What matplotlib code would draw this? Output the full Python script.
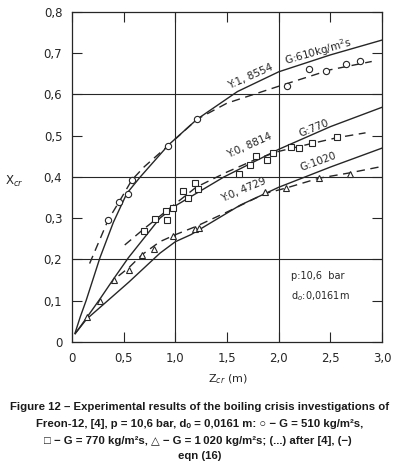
import numpy as np
import matplotlib
matplotlib.use('Agg')
import matplotlib.pyplot as plt

# eqn (16) curves
x_510 = [0.03, 0.08, 0.136, 0.27, 0.40, 0.53, 0.66, 0.935, 1.21, 1.6, 2.0, 2.5, 3.0]
y_510 = [0.022, 0.061, 0.10, 0.204, 0.29, 0.36, 0.40, 0.478, 0.54, 0.607, 0.655, 0.696, 0.732]
x_770 = [0.03, 0.08, 0.27, 0.40, 0.545, 0.85, 1.0, 1.47, 2.0, 2.5, 3.0]
y_770 = [0.02, 0.037, 0.104, 0.152, 0.204, 0.30, 0.33, 0.40, 0.467, 0.522, 0.569]
x_1020 = [0.03, 0.14, 0.30, 0.55, 0.85, 1.0, 1.15, 1.63, 2.0, 2.5, 3.0]
y_1020 = [0.02, 0.055, 0.09, 0.145, 0.215, 0.243, 0.26, 0.332, 0.375, 0.424, 0.47]

# correlation after [4] (dashed)
xd_510 = [0.17, 0.35, 0.456, 0.58, 0.70, 0.93, 1.21, 1.5, 2.0, 2.5, 2.9]
yd_510 = [0.19, 0.296, 0.34, 0.393, 0.425, 0.476, 0.54, 0.579, 0.62, 0.66, 0.68]
xd_770 = [0.51, 0.70, 0.90, 1.0, 1.2, 1.5, 1.8, 2.0, 2.3, 2.56, 2.84]
yd_770 = [0.235, 0.275, 0.315, 0.335, 0.375, 0.412, 0.445, 0.462, 0.48, 0.495, 0.507]
xd_1020 = [0.45, 0.55, 0.68, 0.85, 1.0, 1.2, 1.5, 1.87, 2.07, 2.39, 2.69, 2.99]
yd_1020 = [0.16, 0.18, 0.212, 0.243, 0.26, 0.28, 0.315, 0.36, 0.373, 0.397, 0.41, 0.425]

# experimental points
xo = [0.35, 0.456, 0.54, 0.58, 0.93, 1.21, 2.08, 2.29, 2.46, 2.65, 2.79]
yo = [0.296, 0.34, 0.358, 0.393, 0.476, 0.54, 0.62, 0.663, 0.657, 0.674, 0.681]
xs = [0.70, 0.80, 0.91, 0.92, 0.98, 1.07, 1.12, 1.19, 1.22, 1.62, 1.72, 1.78, 1.89, 1.94, 2.12, 2.2, 2.32, 2.56]
ys = [0.27, 0.297, 0.317, 0.296, 0.324, 0.367, 0.348, 0.385, 0.371, 0.408, 0.43, 0.451, 0.44, 0.459, 0.473, 0.47, 0.483, 0.496]
xt = [0.14, 0.27, 0.41, 0.55, 0.68, 0.79, 0.98, 1.19, 1.23, 1.87, 2.07, 2.39, 2.69]
yt = [0.06, 0.10, 0.15, 0.175, 0.21, 0.225, 0.257, 0.273, 0.275, 0.363, 0.373, 0.397, 0.407]

xticks = [0, 0.5, 1.0, 1.5, 2.0, 2.5, 3.0]
xtick_labels = ["0", "0,5", "1,0", "1,5", "2,0", "2,5", "3,0"]
yticks = [0, 0.1, 0.2, 0.3, 0.4, 0.5, 0.6, 0.7, 0.8]
ytick_labels = ["0", "0,1", "0,2", "0,3", "0,4", "0,5", "0,6", "0,7", "0,8"]

INK = "#262626"

fig = plt.figure(figsize=(3.98, 4.62), dpi=100)
fig.patch.set_facecolor("white")
ax = fig.add_axes([0.181, 0.26, 0.779, 0.714])

for xv in (1.0, 2.0):
    ax.axvline(xv, color=INK, lw=0.8, zorder=1)
for yv in (0.2, 0.4, 0.6):
    ax.axhline(yv, color=INK, lw=0.8, zorder=1)

lw = 1.0
ax.plot(x_510, y_510, color=INK, lw=lw)
ax.plot(x_770, y_770, color=INK, lw=lw)
ax.plot(x_1020, y_1020, color=INK, lw=lw)
dash = (0, (6, 4))
ax.plot(xd_510, yd_510, color=INK, lw=lw, ls=dash)
ax.plot(xd_770, yd_770, color=INK, lw=lw, ls=dash)
ax.plot(xd_1020, yd_1020, color=INK, lw=lw, ls=dash)

mk = dict(ls="none", mfc="white", mec=INK, mew=0.8, zorder=4)
ax.plot(xo, yo, marker="o", ms=4.5, **mk)
ax.plot(xs, ys, marker="s", ms=4.5, **mk)
ax.plot(xt, yt, marker="^", ms=4.5, **mk)

ax.set_xlim(0, 3.0)
ax.set_ylim(0, 0.8)
ax.set_xticks(xticks)
ax.set_xticklabels(xtick_labels)
ax.set_yticks(yticks)
ax.set_yticklabels(ytick_labels)
ax.tick_params(direction="in", length=7, width=0.8, top=True, right=True,
               colors=INK, labelsize=8.5, pad=7)
for spine in ax.spines.values():
    spine.set_edgecolor(INK)
    spine.set_linewidth(0.9)

tkw = dict(color=INK, fontsize=7.5, ha="center", va="center", rotation_mode="anchor")
ax.text(1.73, 0.643, "Y:1, 8554", rotation=24, **tkw)
ax.text(2.38, 0.703, "G:610kg/m$^2$s", rotation=16, **tkw)
ax.text(1.72, 0.476, "Y:0, 8814", rotation=24, **tkw)
ax.text(2.34, 0.518, "G:770", rotation=22, **tkw)
ax.text(2.38, 0.436, "G:1020", rotation=20, **tkw)
ax.text(1.66, 0.368, "Y:0, 4729", rotation=23, **tkw)
ax.text(2.12, 0.16, "p:10,6  bar", color=INK, fontsize=7, ha="left", va="center")
ax.text(2.12, 0.11, "d$_o$:0,0161m", color=INK, fontsize=7, ha="left", va="center")

fig.text(14 / 398, 1 - 181 / 462, "X$_{cr}$", color=INK, fontsize=8.5, ha="center", va="center")
fig.text(228 / 398, 1 - 379 / 462, "Z$_{cr}$ (m)", color=INK, fontsize=8, ha="center", va="center")

cap = dict(color="#1a1a1a", fontsize=8.2, fontweight="bold", ha="center", va="center",
           family=["Liberation Sans Narrow", "Liberation Sans", "DejaVu Sans"])
fig.text(200 / 398, 1 - 407 / 462,
         "Figure 12 \u2013 Experimental results of the boiling crisis investigations of", **cap)
fig.text(200 / 398, 1 - 424 / 462,
         "Freon-12, [4], p = 10,6 bar, d\u2092 = 0,0161 m: \u25cb \u2212 G = 510 kg/m\u00b2s,", **cap)
fig.text(198 / 398, 1 - 441 / 462,
         "\u25a1 \u2212 G = 770 kg/m\u00b2s, \u25b3 \u2212 G = 1\u2009020 kg/m\u00b2s; (...) after [4], (\u2212)", **cap)
fig.text(200 / 398, 1 - 456 / 462, "eqn (16)", **cap)

fig.savefig("out.png", dpi=100, facecolor="white")
